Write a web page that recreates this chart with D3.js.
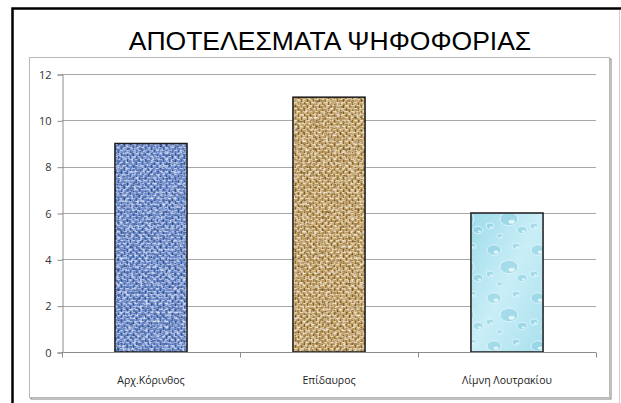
<!DOCTYPE html>
<html>
<head>
<meta charset="utf-8">
<script src="https://cdn.jsdelivr.net/npm/d3@7"></script>
<style>
  body { margin: 0; background: #fff; }
  svg { display: block; }
</style>
</head>
<body>
<div id="chart"></div>
<script>
const categories = ["Αρχ.Κόρινθος", "Επίδαυρος", "Λίμνη Λουτρακίου"];
const votes = [9, 11, 6];
const yTicks = [0, 2, 4, 6, 8, 10, 12];
const title = "ΑΠΟΤΕΛΕΣΜΑΤΑ ΨΗΦΟΦΟΡΙΑΣ";

const width = 621, height = 403;
const margin = { top: 74, right: 25, bottom: 51, left: 62 };

const svg = d3.select("#chart").append("svg")
    .attr("width", width)
    .attr("height", height);

// textures for the bars
const defs = svg.append("defs");

const noise = defs.append("filter").attr("id", "noise")
    .attr("x", 0).attr("y", 0).attr("width", 1).attr("height", 1);
noise.append("feTurbulence").attr("type", "fractalNoise")
    .attr("baseFrequency", 0.35).attr("numOctaves", 2).attr("seed", 7).attr("result", "t");
noise.append("feColorMatrix").attr("in", "t").attr("type", "matrix")
    .attr("values", "0.9 0 0 0 0.05  0.9 0 0 0 0.05  0.9 0 0 0 0.05  0 0 0 0 1").attr("result", "g");
noise.append("feBlend").attr("in", "SourceGraphic").attr("in2", "g").attr("mode", "overlay").attr("result", "b");
noise.append("feComposite").attr("in", "b").attr("in2", "SourceGraphic").attr("operator", "in");

function weave(id, bg, dark, light) {
    const p = defs.append("pattern").attr("id", id)
        .attr("patternUnits", "userSpaceOnUse").attr("width", 6).attr("height", 6);
    p.append("rect").attr("width", 6).attr("height", 6).attr("fill", bg);
    p.append("rect").attr("x", 0).attr("y", 0).attr("width", 3).attr("height", 1).attr("fill", light);
    p.append("rect").attr("x", 3).attr("y", 3).attr("width", 3).attr("height", 1).attr("fill", light);
    p.append("rect").attr("x", 4).attr("y", 0).attr("width", 1).attr("height", 3).attr("fill", dark);
    p.append("rect").attr("x", 1).attr("y", 3).attr("width", 1).attr("height", 3).attr("fill", dark);
}
weave("denim", "#6d8ecf", "#4564a8", "#aec4ee");
weave("burlap", "#c6a468", "#94733a", "#ebd5a0");

const water = defs.append("linearGradient").attr("id", "waterGrad")
    .attr("x1", 0).attr("y1", 0).attr("x2", 1).attr("y2", 1);
water.append("stop").attr("offset", "0%").attr("stop-color", "#9edbea");
water.append("stop").attr("offset", "50%").attr("stop-color", "#c9eef7");
water.append("stop").attr("offset", "100%").attr("stop-color", "#a9e0ed");
const drops = defs.append("pattern").attr("id", "drops")
    .attr("patternUnits", "userSpaceOnUse").attr("width", 44).attr("height", 48);
[[10, 10, 7], [32, 6, 4], [25, 27, 9], [6, 34, 4], [38, 38, 5], [16, 44, 3]].forEach(d => {
    drops.append("ellipse").attr("cx", d[0]).attr("cy", d[1]).attr("rx", d[2]).attr("ry", d[2] * 0.75)
        .attr("fill", "#7fc8db").attr("fill-opacity", 0.45)
        .attr("stroke", "#e6f8fc").attr("stroke-width", 0.8);
    drops.append("ellipse").attr("cx", d[0] + d[2] * 0.3).attr("cy", d[1] + d[2] * 0.3)
        .attr("rx", d[2] * 0.35).attr("ry", d[2] * 0.22).attr("fill", "#f2fcff").attr("fill-opacity", 0.8);
});
const fills = ["url(#denim)", "url(#burlap)", "url(#waterGrad)"];

// frames
svg.append("rect").attr("x", 12.5).attr("y", 8.5).attr("width", 620).attr("height", 410)
    .attr("fill", "#fff").attr("stroke", "#000").attr("stroke-width", 2.5);
svg.append("line").attr("x1", 619.5).attr("x2", 619.5).attr("y1", 10).attr("y2", height)
    .attr("stroke", "#d0d0d0");
svg.append("rect").attr("x", 31).attr("y", 59).attr("width", 580).attr("height", 340)
    .attr("fill", "none").attr("stroke", "#808080").attr("stroke-width", 1);
svg.append("rect").attr("x", 29.5).attr("y", 57.5).attr("width", 580).attr("height", 340)
    .attr("fill", "#fff").attr("stroke", "#b8b8b8").attr("stroke-width", 1);

svg.append("text")
    .attr("x", 330).attr("y", 50)
    .attr("text-anchor", "middle")
    .attr("font-family", "Liberation Sans, Arial, sans-serif")
    .attr("font-size", 26.5)
    .attr("fill", "#000")
    .text(title);

const x = d3.scaleBand()
    .domain(categories)
    .range([margin.left, width - margin.right])
    .paddingInner(0.595)
    .paddingOuter(0.2975);

const y = d3.scaleLinear()
    .domain([0, 12])
    .range([height - margin.bottom, margin.top]);

// gridlines
svg.append("g")
    .selectAll("line")
    .data(yTicks.slice(1))
    .join("line")
    .attr("x1", margin.left).attr("x2", width - margin.right)
    .attr("y1", d => Math.round(y(d)) + 0.5).attr("y2", d => Math.round(y(d)) + 0.5)
    .attr("stroke", "#a8a8a8");

const yAxis = svg.append("g")
    .attr("transform", `translate(${margin.left + 0.5},0.5)`)
    .call(d3.axisLeft(y).tickValues(yTicks).tickSize(5).tickPadding(6).tickFormat(d3.format("d")));
yAxis.select(".domain").attr("stroke", "#8c8c8c");
yAxis.selectAll(".tick line").attr("stroke", "#8c8c8c");
yAxis.selectAll(".tick text")
    .attr("font-family", "Open Sans, sans-serif").attr("font-size", 11).attr("fill", "#333");

// bars: base fill, drop overlay for the last one, then outline
const bars = svg.append("g");
bars.selectAll("rect.bar")
    .data(votes)
    .join("rect")
    .attr("class", "bar")
    .attr("x", (d, i) => x(categories[i]))
    .attr("y", d => y(d))
    .attr("width", x.bandwidth())
    .attr("height", d => y(0) - y(d))
    .attr("fill", (d, i) => fills[i])
    .attr("filter", (d, i) => i < 2 ? "url(#noise)" : null);
bars.append("rect")
    .attr("x", x(categories[2]))
    .attr("y", y(votes[2]))
    .attr("width", x.bandwidth())
    .attr("height", y(0) - y(votes[2]))
    .attr("fill", "url(#drops)");
bars.selectAll("rect.outline")
    .data(votes)
    .join("rect")
    .attr("class", "outline")
    .attr("x", (d, i) => x(categories[i]))
    .attr("y", d => y(d))
    .attr("width", x.bandwidth())
    .attr("height", d => y(0) - y(d))
    .attr("fill", "none")
    .attr("stroke", "#1a1a1a")
    .attr("stroke-width", 1.5);

// x axis with ticks at category boundaries
const xAxisY = Math.round(y(0)) + 0.5;
const boundaries = categories.map(c => x(c) - x.step() * x.paddingInner() / 2)
    .concat([width - margin.right]);
svg.append("line")
    .attr("x1", margin.left).attr("x2", width - margin.right)
    .attr("y1", xAxisY).attr("y2", xAxisY)
    .attr("stroke", "#8c8c8c");
svg.append("g")
    .selectAll("line")
    .data(boundaries)
    .join("line")
    .attr("x1", d => Math.round(d) + 0.5).attr("x2", d => Math.round(d) + 0.5)
    .attr("y1", xAxisY).attr("y2", xAxisY + 5)
    .attr("stroke", "#8c8c8c");
svg.append("g")
    .selectAll("text")
    .data(categories)
    .join("text")
    .attr("x", d => x(d) + x.bandwidth() / 2)
    .attr("y", 384)
    .attr("text-anchor", "middle")
    .attr("font-family", "Open Sans, sans-serif")
    .attr("font-size", 10.5)
    .attr("fill", "#222")
    .text(d => d);
</script>
</body>
</html>
